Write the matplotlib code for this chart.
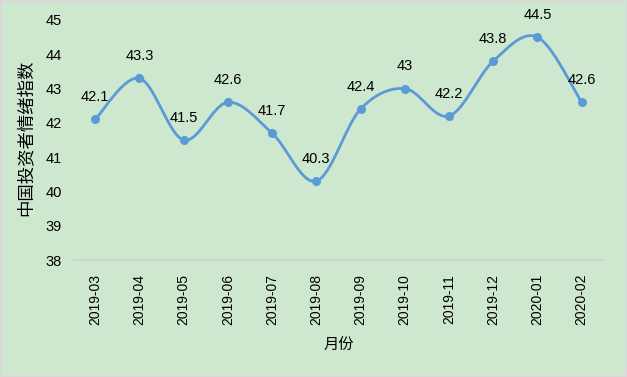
import numpy as np
import matplotlib
matplotlib.use("Agg")
import matplotlib.pyplot as plt

plt.rcParams['font.family'] = ['Liberation Sans', 'Noto Sans CJK SC', 'DejaVu Sans']

months = ['2019-03', '2019-04', '2019-05', '2019-06', '2019-07', '2019-08',
          '2019-09', '2019-10', '2019-11', '2019-12', '2020-01', '2020-02']
values = [42.1, 43.3, 41.5, 42.6, 41.7, 40.3, 42.4, 43.0, 42.2, 43.8, 44.5, 42.6]
yticks = [38, 39, 40, 41, 42, 43, 44, 45]

bg = '#cde8cf'
line_c = '#5b9bd5'

x = np.arange(len(values), dtype=float)
y = np.array(values)

# smooth line like Excel (catmull-rom as bezier segments)
px = np.concatenate([[x[0]], x, [x[-1]]])
py = np.concatenate([[y[0]], y, [y[-1]]])
sx, sy = [], []
t = np.linspace(0, 1, 40)
for i in range(1, len(px) - 2):
    p0x, p1x, p2x, p3x = px[i - 1], px[i], px[i + 1], px[i + 2]
    p0y, p1y, p2y, p3y = py[i - 1], py[i], py[i + 1], py[i + 2]
    c1x = p1x + (p2x - p0x) / 6
    c1y = p1y + (p2y - p0y) / 6
    c2x = p2x - (p3x - p1x) / 6
    c2y = p2y - (p3y - p1y) / 6
    bx = (1-t)**3*p1x + 3*(1-t)**2*t*c1x + 3*(1-t)*t**2*c2x + t**3*p2x
    by = (1-t)**3*p1y + 3*(1-t)**2*t*c1y + 3*(1-t)*t**2*c2y + t**3*p2y
    sx.extend(bx)
    sy.extend(by)

fig = plt.figure(figsize=(6.27, 3.77), dpi=100)
fig.patch.set_facecolor(bg)
fig.patch.set_edgecolor('#d9d9d9')
fig.patch.set_linewidth(2)

ax = fig.add_axes([0.1164, 0.3103, 0.8466, 0.6367])
ax.set_facecolor(bg)
ax.plot(sx, sy, color=line_c, lw=2.0, solid_capstyle='round')
ax.plot(x, y, 'o', color=line_c, ms=5.5)

for xi, yi in zip(x, y):
    ax.annotate(f'{yi:g}', (xi, yi), xytext=(0, 11), textcoords='offset points',
                ha='center', va='bottom', fontsize=10.5)

ax.set_xlim(-0.5, len(values) - 0.5)
ax.set_ylim(38, 45)
ax.set_yticks(yticks)
ax.set_yticklabels([str(v) for v in yticks], fontsize=10.5)
ax.set_xticks(x)
ax.set_xticklabels(months, rotation=90, fontsize=10)
ax.tick_params(length=0, pad=10)
ax.tick_params(axis='y', pad=8)

for s in ['top', 'right', 'left']:
    ax.spines[s].set_visible(False)
ax.spines['bottom'].set_color('#d0d0d0')
ax.spines['bottom'].set_linewidth(1.2)

ax.set_ylabel('中国投资者情绪指数', fontsize=12.5, family=['Noto Sans CJK SC'])
ax.yaxis.set_label_coords(-0.072, 0.51)
ax.set_xlabel('月份', fontsize=11, family=['Noto Sans CJK SC'], labelpad=8)

fig.savefig('out.png', dpi=100, facecolor=bg, edgecolor='#d9d9d9')
